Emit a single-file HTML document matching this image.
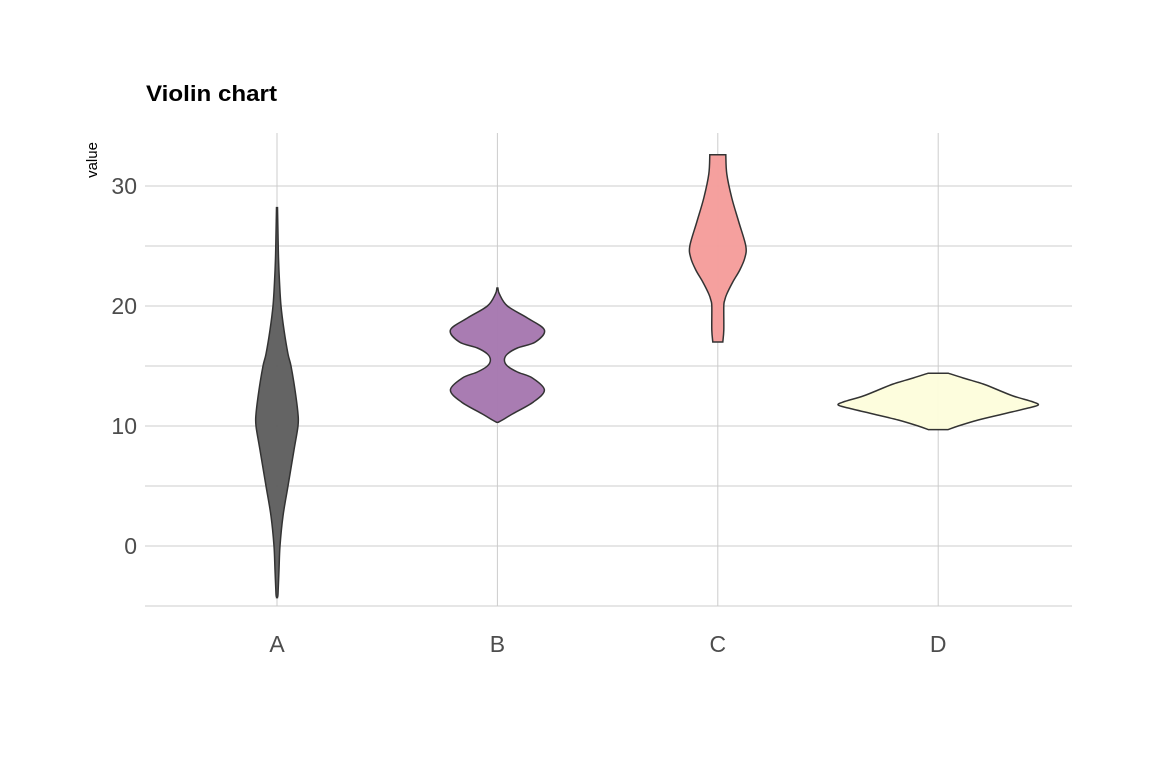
<!DOCTYPE html>
<html><head><meta charset="utf-8"><style>
body{margin:0;background:#fff}
svg text{font-family:"Liberation Sans",Arial,sans-serif}
</style></head><body>
<svg id="chart" width="1152" height="768">
<rect width="1152" height="768" fill="#fff"/>
<text x="146" y="101" font-size="22" font-weight="bold" fill="#000" textLength="131" lengthAdjust="spacingAndGlyphs">Violin chart</text>
<text transform="translate(97,160) rotate(-90)" text-anchor="middle" font-size="15" fill="#000">value</text>
<g id="grid"></g><g id="violins"></g><g id="axes"></g>
</svg>
<script>
const categories = ["A","B","C","D"];
const colors = ["#5f5f5f","#a678b0","#f59d9b","#fdfddc"];
const yTicks = [0,10,20,30];
const yMinor = [-5,5,15,25];
const valuesA = [28.2,26,24,22,20,18,16,15,13,11,10,8,5,2.5,0,-2,-4,-4.3];
const densA   = [0.5,1,1.5,2.5,4,7,11,14,18,21,21,17,11,6,3,2,1,0.5];
const valuesB = [21.5,21,20,19,18,17,16.5,16,15.5,15,14.5,14,13,12,11,10.5,10.3];
const densB   = [0.5,2,10,30,47,38,20,10,7,10,20,35,47,36,15,5,0.5];
const valuesC = [32.6,31,29,27,25,24,23,22,21,20.5,20,18,17];
const densC   = [8,9,14,21,28,27,22,15,9,7,6,6,5];
const valuesD = [14.4,14,13.5,13,12.5,12,11.75,11.5,11,10.5,10,9.7];
const densD   = [10,25,45,60,75,95,100,90,65,40,20,10];
const groupValues = [valuesA,valuesB,valuesC,valuesD];
const groupDens = [densA,densB,densC,densD];

const NS="http://www.w3.org/2000/svg";
const x0=145,x1=1072;
const yScale=v=>546-12*v;
const xScale=i=>277+i*220.4;
const grid=document.getElementById('grid'),vg=document.getElementById('violins'),ax=document.getElementById('axes');
function mk(tag,attrs,parent){const e=document.createElementNS(NS,tag);for(const k in attrs)e.setAttribute(k,attrs[k]);parent.appendChild(e);return e;}
yMinor.concat(yTicks).forEach(v=>{
  const l=mk('line',{x1:x0,x2:x1,y1:yScale(v),y2:yScale(v),stroke:'#cccccc','stroke-width':1},grid);
  
  
});
categories.forEach((c,i)=>{
  const l=mk('line',{x1:xScale(i),x2:xScale(i),y1:133,y2:606,stroke:'#cccccc','stroke-width':1},grid);
  
  
  const t=mk('text',{x:xScale(i),y:652,'text-anchor':'middle','font-size':23,fill:'#4d4d4d'},ax);
  t.textContent=c;
  
  
});
yTicks.forEach(v=>{
  const t=mk('text',{x:137,y:yScale(v)+8,'text-anchor':'end','font-size':23,fill:'#4d4d4d'},ax);
  t.textContent=v;
  
  
});
function smoothPath(pts){
  let d='M'+pts[0][0]+','+pts[0][1];
  for(let i=0;i<pts.length-1;i++){
    const p0=pts[Math.max(0,i-1)],p1=pts[i],p2=pts[i+1],p3=pts[Math.min(pts.length-1,i+2)];
    const c1=[p1[0]+(p2[0]-p0[0])/6,p1[1]+(p2[1]-p0[1])/6];
    const c2=[p2[0]-(p3[0]-p1[0])/6,p2[1]-(p3[1]-p1[1])/6];
    d+=' C'+c1[0]+','+c1[1]+' '+c2[0]+','+c2[1]+' '+p2[0]+','+p2[1];
  }
  return d;
}
categories.forEach((c,i)=>{
  const vals=groupValues[i],dens=groupDens[i],cx=xScale(i);
  const right=vals.map((v,j)=>[cx+dens[j],yScale(v)]);
  const left=vals.map((v,j)=>[cx-dens[j],yScale(v)]).reverse();
  const d=smoothPath(right)+' L'+left[0][0]+','+left[0][1]+smoothPath(left).replace(/^M[^ ]+/,'')+' Z';
  const p=mk('path',{d:d,fill:colors[i],'fill-opacity':0.97,stroke:'#333','stroke-width':1.5},vg);
  
  
});
</script>
</body></html>
